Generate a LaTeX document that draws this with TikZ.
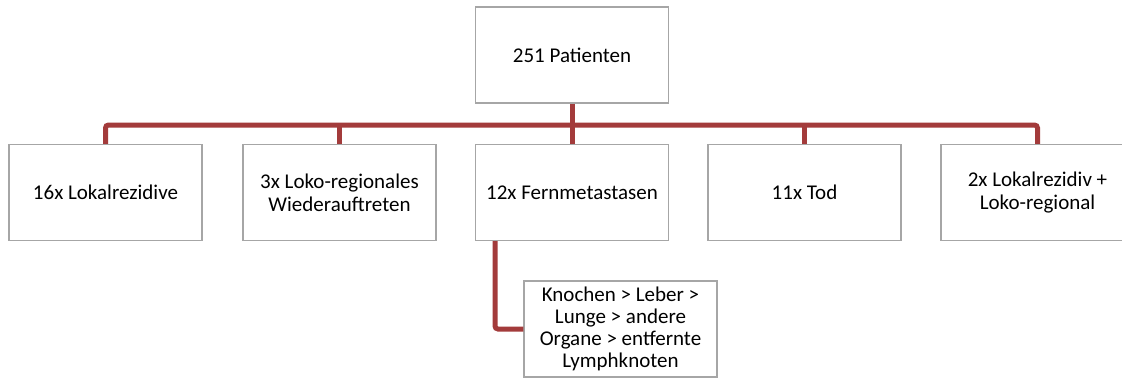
\documentclass[tikz,border=0pt]{standalone}
\usepackage{fontspec}
\setmainfont{Carlito}
\definecolor{connred}{HTML}{A33B3B}
\definecolor{boxgray}{HTML}{A6A6A6}
\tikzset{
  box/.style={draw=boxgray, line width=1.5pt, fill=white, minimum width=193pt, minimum height=96pt, inner sep=0pt, align=center, font=\fontsize{21pt}{23pt}\selectfont},
  conn/.style={draw=connred, line width=5pt, rounded corners=3pt}
}
\begin{document}
\begin{tikzpicture}[x=1pt,y=-1pt]
\useasboundingbox (0,0) rectangle (1122,378);
\clip (0,0) rectangle (1122,378);
\fill[white] (0,0) rectangle (1122,378);
\coordinate (bar) at (572,125);
\node[box] (top) at (572,55) {251 Patienten};
\node[box] (n1) at (105.5,192.5) {16x Lokalrezidive};
\node[box] (n2) at (339.5,192.5) {3x Loko-regionales\\Wiederauftreten};
\node[box] (n3) at (572,192.5) {12x Fernmetastasen};
\node[box] (n4) at (804.5,192.5) {11x Tod};
\node[box] (n5) at (1037.5,192.5) {2x Lokalrezidiv +\\Loko-regional};
\node[box, font=\fontsize{21pt}{22pt}\selectfont] (sub) at (620.5,329) {Knochen > Leber >\\Lunge > andere\\Organe > entfernte\\Lymphknoten};
\coordinate (elbow) at (495,241);
\draw[conn] (n1.north) -- (n1.north |- bar) -- (n5.north |- bar) -- (n5.north);
\draw[conn] (top.south) -- (n3.north);
\draw[conn] (n2.north) -- (n2.north |- bar);
\draw[conn] (n4.north) -- (n4.north |- bar);
\draw[conn] (elbow) |- (sub.west);
\end{tikzpicture}
\end{document}
